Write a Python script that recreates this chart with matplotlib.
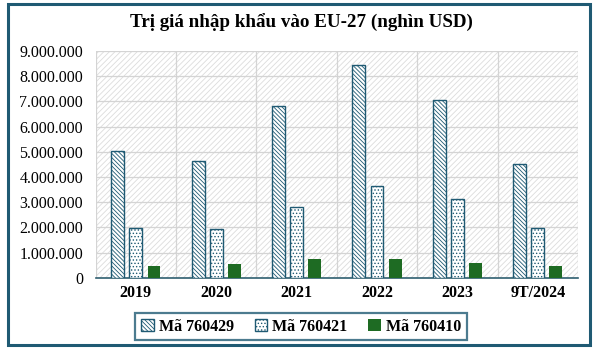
import matplotlib.pyplot as plt
import matplotlib.patches as mpatches
import numpy as np

years = ['2019', '2020', '2021', '2022', '2023', '9T/2024']
ma_760429 = [5050000, 4620000, 6800000, 8450000, 7050000, 4500000]
ma_760421 = [1970000, 1940000, 2800000, 3630000, 3120000, 1980000]
ma_760410 = [470000, 550000, 750000, 750000, 600000, 480000]

plt.rcParams['font.family'] = ['Liberation Serif', 'DejaVu Serif']
plt.rcParams['hatch.linewidth'] = 0.6

teal = '#1f5a73'
green = '#1e6b23'

fig = plt.figure(figsize=(6.02, 3.54), dpi=100)
ax = fig.add_axes([0.159, 0.215, 0.801, 0.641])

# hatched background of the plot area
ax.patch.set_facecolor('white')
ax.patch.set_edgecolor('#dcdcdc')
ax.patch.set_hatch('//////')
ax.patch.set_linewidth(0)

x = np.arange(len(years))
w = 0.16
off = 0.225
ax.bar(x - off, ma_760429, w, facecolor='white', edgecolor=teal, hatch='\\' * 8,
       linewidth=1.0, label='Mã 760429', zorder=3)
ax.bar(x, ma_760421, w, facecolor='white', edgecolor=teal, hatch='.' * 5,
       linewidth=1.0, label='Mã 760421', zorder=3)
ax.bar(x + off, ma_760410, w, color=green, label='Mã 760410', zorder=3)

ax.set_xlim(-0.5, len(years) - 0.5)
ax.set_ylim(0, 9000000)
ax.set_yticks(np.arange(0, 9000001, 1000000))
ax.set_yticklabels(['{:,}'.format(v).replace(',', '.') for v in range(0, 9000001, 1000000)],
                   fontsize=11.5)
ax.set_xticks(x)
ax.set_xticklabels(years, fontsize=11.5, fontweight='bold')
ax.tick_params(axis='x', length=0, pad=5)
ax.tick_params(axis='y', length=0, pad=9)

ax.set_xticks(np.arange(-0.5, len(years)), minor=True)
ax.grid(axis='y', color='#d4d4d4', linewidth=0.9, zorder=1)
ax.grid(axis='x', which='minor', color='#d4d4d4', linewidth=0.9, zorder=1)
ax.tick_params(which='minor', length=0)
for s in ['left', 'right', 'top']:
    ax.spines[s].set_visible(False)
ax.spines['bottom'].set_color('#2f5f70')
ax.spines['bottom'].set_linewidth(1.2)

fig.text(0.5, 0.935, 'Trị giá nhập khẩu vào EU-27 (nghìn USD)', ha='center', va='center',
         fontsize=13.7, fontweight='bold')

leg = fig.legend(loc='center', bbox_to_anchor=(0.5, 0.077), ncol=3, frameon=True,
                 fancybox=False, prop={'size': 11.5, 'weight': 'bold'},
                 handlelength=0.8, handleheight=0.8, handletextpad=0.3,
                 columnspacing=1.3, borderpad=0.35)
leg.get_frame().set_edgecolor(teal)
leg.get_frame().set_linewidth(1.6)

# outer chart border
fig.patches.append(mpatches.Rectangle((0.014, 0.025), 0.966, 0.965, transform=fig.transFigure,
                                      fill=False, edgecolor=teal, linewidth=2.2))

fig.savefig('out.png', dpi=100)
